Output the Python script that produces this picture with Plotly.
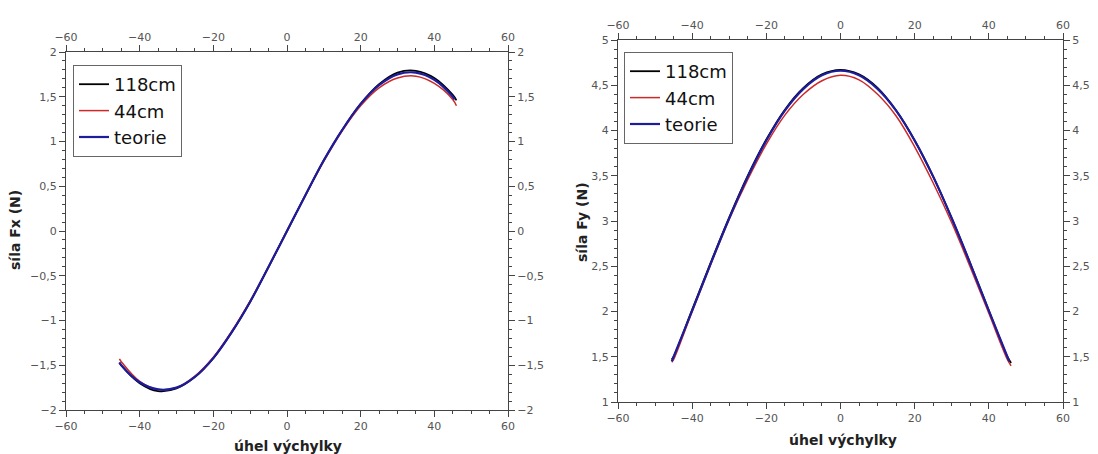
import plotly.graph_objects as go

# ---- data ----
angle_exp = [-45.5, -45, -40, -35, -30, -25, -20, -15, -10, -5, 0, 5, 10, 15, 20, 25, 30, 35, 40, 45, 46]
angle_teo = [-45.5, -45, -40, -35, -30, -25, -20, -15, -10, -5, 0, 5, 10, 15, 20, 25, 30, 35, 40, 45, 45.5]

fx_118 = [-1.47, -1.50, -1.70, -1.79, -1.76, -1.63, -1.42, -1.13, -0.79, -0.40, 0.0, 0.40, 0.79, 1.13, 1.42, 1.64, 1.77, 1.79, 1.71, 1.52, 1.46]
fx_44 = [-1.43, -1.46, -1.68, -1.77, -1.75, -1.62, -1.41, -1.12, -0.78, -0.40, 0.0, 0.40, 0.78, 1.12, 1.40, 1.60, 1.71, 1.73, 1.65, 1.47, 1.40]
fx_teo = [-1.47, -1.50, -1.69, -1.77, -1.75, -1.63, -1.42, -1.13, -0.79, -0.40, 0.0, 0.40, 0.79, 1.13, 1.42, 1.63, 1.75, 1.77, 1.69, 1.50, 1.47]

fy_118 = [1.47, 1.50, 2.02, 2.54, 3.04, 3.50, 3.90, 4.23, 4.47, 4.62, 4.67, 4.62, 4.47, 4.22, 3.89, 3.49, 3.03, 2.53, 2.01, 1.50, 1.43]
fy_44 = [1.44, 1.47, 2.00, 2.52, 3.02, 3.46, 3.85, 4.17, 4.40, 4.55, 4.61, 4.56, 4.40, 4.16, 3.82, 3.42, 2.98, 2.49, 1.98, 1.47, 1.40]
fy_teo = [1.45, 1.50, 2.01, 2.53, 3.03, 3.49, 3.89, 4.22, 4.46, 4.61, 4.66, 4.61, 4.46, 4.22, 3.89, 3.49, 3.03, 2.53, 2.01, 1.50, 1.45]

series_names = ["118cm", "44cm", "teorie"]
series_colors = ["#000000", "#cc2a2a", "#1c1c9c"]
series_widths = [1.8, 1.5, 2.2]

x_ticks = [-60, -40, -20, 0, 20, 40, 60]

fig = go.Figure()

left = [(angle_exp, fx_118), (angle_exp, fx_44), (angle_teo, fx_teo)]
right = [(angle_exp, fy_118), (angle_exp, fy_44), (angle_teo, fy_teo)]

for i, (xs, ys) in enumerate(left):
    fig.add_trace(go.Scatter(x=xs, y=ys, mode="lines", name=series_names[i],
                             line=dict(color=series_colors[i], width=series_widths[i], shape="spline"),
                             xaxis="x", yaxis="y", legend="legend"))
for i, (xs, ys) in enumerate(right):
    fig.add_trace(go.Scatter(x=xs, y=ys, mode="lines", name=series_names[i],
                             line=dict(color=series_colors[i], width=series_widths[i], shape="spline"),
                             xaxis="x2", yaxis="y2", legend="legend2"))

# empty traces to anchor the mirrored label axes
fig.add_trace(go.Scatter(x=[], y=[], xaxis="x3", yaxis="y3", showlegend=False, hoverinfo="skip"))
fig.add_trace(go.Scatter(x=[], y=[], xaxis="x4", yaxis="y4", showlegend=False, hoverinfo="skip"))

# page body has an 8px margin: work in screen pixels and subtract it
OFF = 8
W, H = 1098 - OFF, 454 - OFF


def px(v):
    return (v - OFF) / W


def py(v):
    return 1 - (v - OFF) / H


L_x = [px(66), px(508)]
L_y = [py(410), py(52)]
R_x = [px(618), px(1063)]
R_y = [py(402), py(40)]

tickfont = dict(family="DejaVu Sans", size=11, color="#555555")
axcol = "#444444"


def xax(domain, anchor, side="bottom", overlaying=None):
    d = dict(domain=domain, anchor=anchor, range=[-60, 60], tickvals=x_ticks, side=side,
             automargin=False,
             showline=True, linecolor=axcol, linewidth=1, ticks="outside", ticklen=6,
             tickcolor=axcol, tickwidth=1, showgrid=False, zeroline=False, tickfont=tickfont,
             minor=dict(dtick=5, tick0=0, ticks="outside", ticklen=3, tickcolor=axcol, showgrid=False))
    if overlaying:
        d["overlaying"] = overlaying
        d.pop("domain")
    return d


def yax(domain, anchor, rng, side="left", overlaying=None):
    d = dict(domain=domain, anchor=anchor, range=rng, dtick=0.5, tick0=0, side=side,
             automargin=False,
             showline=True, linecolor=axcol, linewidth=1, ticks="outside", ticklen=6,
             tickcolor=axcol, tickwidth=1, showgrid=False, zeroline=False, tickfont=tickfont,
             minor=dict(dtick=0.1, tick0=0, ticks="outside", ticklen=3, tickcolor=axcol, showgrid=False))
    if overlaying:
        d["overlaying"] = overlaying
        d.pop("domain")
    return d


fig.update_layout(
    width=W, height=H,
    margin=dict(l=0, r=0, t=0, b=0, autoexpand=False),
    paper_bgcolor="white", plot_bgcolor="white",
    separators=", ",
    xaxis=xax(L_x, "y"),
    yaxis=yax(L_y, "x", [-2, 2]),
    xaxis2=xax(R_x, "y2"),
    yaxis2=yax(R_y, "x2", [1, 5]),
    xaxis3=xax(L_x, "y", side="top", overlaying="x"),
    yaxis3=yax(L_y, "x", [-2, 2], side="right", overlaying="y"),
    xaxis4=xax(R_x, "y2", side="top", overlaying="x2"),
    yaxis4=yax(R_y, "x2", [1, 5], side="right", overlaying="y2"),
    legend=dict(x=px(73), y=py(65), xanchor="left", yanchor="top",
                bordercolor="#666666", borderwidth=1, bgcolor="white",
                font=dict(family="DejaVu Sans", size=18, color="#111111")),
    legend2=dict(x=px(624), y=py(52), xanchor="left", yanchor="top",
                 bordercolor="#666666", borderwidth=1, bgcolor="white",
                 font=dict(family="DejaVu Sans", size=18, color="#111111")),
    showlegend=True,
)

titlefont = dict(family="DejaVu Sans", size=14, color="#222222")
fig.add_annotation(text="<b>síla Fx (N)</b>", textangle=-90, x=px(15), y=py(230),
                   xanchor="center", yanchor="middle",
                   xref="paper", yref="paper", showarrow=False, font=titlefont)
fig.add_annotation(text="<b>úhel výchylky</b>", x=px(288), y=py(446),
                   xanchor="center", yanchor="middle",
                   xref="paper", yref="paper", showarrow=False, font=titlefont)
fig.add_annotation(text="<b>síla Fy (N)</b>", textangle=-90, x=px(582), y=py(222),
                   xanchor="center", yanchor="middle",
                   xref="paper", yref="paper", showarrow=False, font=titlefont)
fig.add_annotation(text="<b>úhel výchylky</b>", x=px(843), y=py(440),
                   xanchor="center", yanchor="middle",
                   xref="paper", yref="paper", showarrow=False, font=titlefont)

fig.write_html("out.html")
